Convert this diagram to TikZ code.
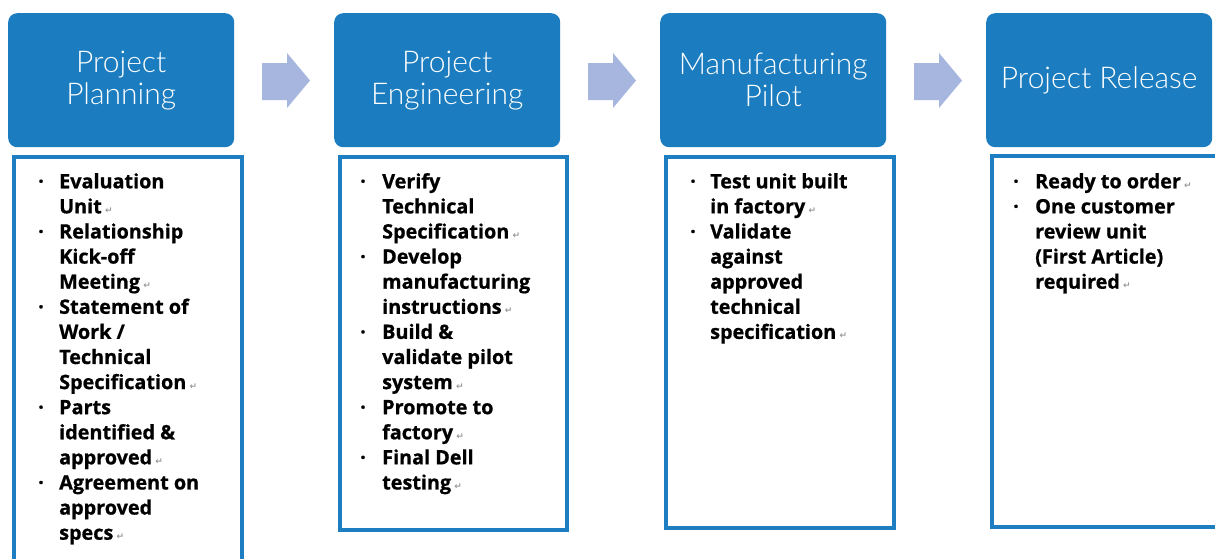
\documentclass[tikz,border=0pt]{standalone}
\usepackage{fontspec}
\setmainfont{Open Sans}[BoldFeatures={FakeBold=0.8}]
\newfontfamily\hdfont{Lato Light}
\newfontfamily\dvfont{DejaVu Sans}
\definecolor{hblue}{RGB}{27,124,191}
\definecolor{bblue}{RGB}{30,126,194}
\definecolor{ablue}{RGB}{166,182,222}
\newcommand\retmark{\,{\dvfont\fontsize{9}{9}\selectfont\color{black!40}↵}}
\begin{document}
\begin{tikzpicture}[x=1pt,y=-1pt,
  hdr/.style={fill=hblue, rounded corners=9pt, minimum width=226pt, minimum height=134pt,
    inner sep=0pt, text=white, font=\hdfont\fontsize{30}{32}\selectfont, align=center, anchor=north west},
  cbox/.style={draw=bblue, line width=4pt, anchor=north west, inner sep=0pt},
  arr/.style={fill=ablue},
  item/.style={anchor=north west, align=left, inner sep=0pt, font=\bfseries\fontsize{19.8}{25.1}\selectfont},
  bul/.style={anchor=north west, inner sep=0pt, font=\bfseries\fontsize{19.8}{25.1}\selectfont}
]
\clip (0,0) rectangle (1215,558);
\fill[white] (0,0) rectangle (1215,558);

% headers
\node[hdr] (h1) at (8,13) {Project\\Planning};
\node[hdr] (h2) at (334,13) {Project\\Engineering};
\node[hdr] (h3) at (660,13) {Manufacturing\\Pilot};
\node[hdr] (h4) at (986,13) {Project Release};

% content boxes
\node[cbox, minimum width=228pt, minimum height=425pt] (c1) at (12,155) {};
\node[cbox, minimum width=227pt, minimum height=373pt] (c2) at (338,155) {};
\node[cbox, minimum width=228pt, minimum height=371pt] (c3) at (664,155) {};
\node[cbox, minimum width=228pt, minimum height=371pt] (c4) at (990,154) {};

% block arrows between headers
\foreach \i/\x in {1/262,2/588,3/914}{
  \fill[arr] (\x,63) -- (\x+25,63) -- (\x+25,53) -- (\x+48,80.5) -- (\x+25,108)
    -- (\x+25,100) -- (\x,100) -- cycle;
}

% box 1 items
\foreach \n/\l in {a/0,b/2,c/5,d/9,e/12}{
  \node[bul] (b1\n) at (38,170.5+25.1*\l) {\strut·};
}
\node[item] (t1a) at (59,170.5) {\strut Evaluation\\\strut Unit\retmark};
\node[item] (t1b) at (59,170.5+25.1*2) {\strut Relationship\\\strut Kick-off\\\strut Meeting\retmark};
\node[item] (t1c) at (59,170.5+25.1*5) {\strut Statement of\\\strut Work /\\\strut Technical\\\strut Specification\retmark};
\node[item] (t1d) at (59,170.5+25.1*9) {\strut Parts\\\strut identified \&\\\strut approved\retmark};
\node[item] (t1e) at (59,170.5+25.1*12) {\strut Agreement on\\\strut approved\\\strut specs\retmark};

% box 2 items
\foreach \n/\l in {a/0,b/3,c/6,d/9,e/11}{
  \node[bul] (b2\n) at (360,170.5+25.1*\l) {\strut·};
}
\node[item] (t2a) at (382,170.5) {\strut Verify\\\strut Technical\\\strut Specification\retmark};
\node[item] (t2b) at (382,170.5+25.1*3) {\strut Develop\\\strut manufacturing\\\strut instructions\retmark};
\node[item] (t2c) at (382,170.5+25.1*6) {\strut Build \&\\\strut validate pilot\\\strut system\retmark};
\node[item] (t2d) at (382,170.5+25.1*9) {\strut Promote to\\\strut factory\retmark};
\node[item] (t2e) at (382,170.5+25.1*11) {\strut Final Dell\\\strut testing\retmark};

% box 3 items
\foreach \n/\l in {a/0,b/2}{
  \node[bul] (b3\n) at (690,170.5+25.1*\l) {\strut·};
}
\node[item] (t3a) at (710,170.5) {\strut Test unit built\\\strut in factory\retmark};
\node[item] (t3b) at (710,170.5+25.1*2) {\strut Validate\\\strut against\\\strut approved\\\strut technical\\\strut specification\retmark};

% box 4 items
\foreach \n/\l in {a/0,b/1}{
  \node[bul] (b4\n) at (1013,170.5+25.1*\l) {\strut·};
}
\node[item] (t4a) at (1035,170.5) {\strut Ready to order\retmark};
\node[item] (t4b) at (1035,170.5+25.1) {\strut One customer\\\strut review unit\\\strut (First Article)\\\strut required\retmark};
\end{tikzpicture}
\end{document}
